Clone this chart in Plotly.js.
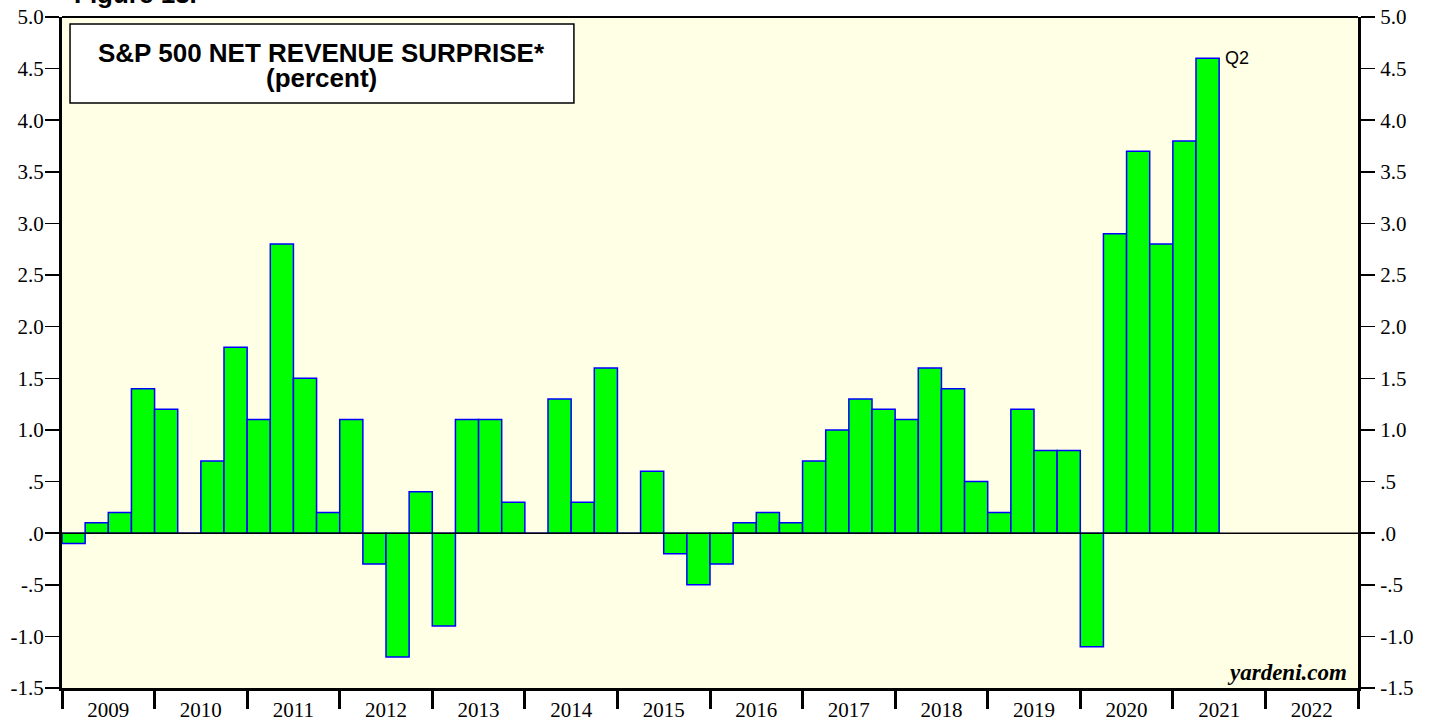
<!DOCTYPE html>
<html>
<head>
<meta charset="utf-8">
<script src="https://cdn.plot.ly/plotly-3.0.1.min.js"></script>
<style>html,body{margin:0;padding:0;background:#fff;}#chart{width:1429px;height:721px;}</style>
</head>
<body>
<div id="chart"></div>
<script>
// Quarterly S&P 500 net revenue surprise (percent)
const quarters = [
  "2009Q1","2009Q2","2009Q3","2009Q4",
  "2010Q1","2010Q2","2010Q3","2010Q4",
  "2011Q1","2011Q2","2011Q3","2011Q4",
  "2012Q1","2012Q2","2012Q3","2012Q4",
  "2013Q1","2013Q2","2013Q3","2013Q4",
  "2014Q1","2014Q2","2014Q3","2014Q4",
  "2015Q1","2015Q2","2015Q3","2015Q4",
  "2016Q1","2016Q2","2016Q3","2016Q4",
  "2017Q1","2017Q2","2017Q3","2017Q4",
  "2018Q1","2018Q2","2018Q3","2018Q4",
  "2019Q1","2019Q2","2019Q3","2019Q4",
  "2020Q1","2020Q2","2020Q3","2020Q4",
  "2021Q1","2021Q2"
];
const surprise = [
  -0.1, 0.1, 0.2, 1.4,
  1.2, 0.0, 0.7, 1.8,
  1.1, 2.8, 1.5, 0.2,
  1.1, -0.3, -1.2, 0.4,
  -0.9, 1.1, 1.1, 0.3,
  0.0, 1.3, 0.3, 1.6,
  0.0, 0.6, -0.2, -0.5,
  -0.3, 0.1, 0.2, 0.1,
  0.7, 1.0, 1.3, 1.2,
  1.1, 1.6, 1.4, 0.5,
  0.2, 1.2, 0.8, 0.8,
  -1.1, 2.9, 3.7, 2.8,
  3.8, 4.6
];
const years = [2009,2010,2011,2012,2013,2014,2015,2016,2017,2018,2019,2020,2021,2022];
const yTickVals = [-1.5,-1.0,-0.5,0,0.5,1.0,1.5,2.0,2.5,3.0,3.5,4.0,4.5,5.0];
const yTickText = ["-1.5","-1.0","-.5",".0",".5","1.0","1.5","2.0","2.5","3.0","3.5","4.0","4.5","5.0"];
const lastLabel = "Q2";

// quarter label -> decimal-year center position
function qpos(s){ const y = parseInt(s.slice(0,4),10); const q = parseInt(s.slice(5),10); return y + (q-1)*0.25 + 0.125; }
const xs = quarters.map(qpos);

const serif = "'Liberation Serif', 'Times New Roman', serif";
const sans = "'Liberation Sans', Arial, sans-serif";
const yr = [-1.5, 5.0];
const xr = [years[0], years[years.length-1]+1];

const traces = [
  {
    type: 'bar', x: xs, y: surprise, width: 0.25,
    marker: {color: '#00ff00', line: {color: '#0000ff', width: 1.5}},
    hoverinfo: 'x+y', showlegend: false
  },
  {
    type: 'scatter', mode: 'markers', x: [xs[0]], y: [0], yaxis: 'y2',
    marker: {opacity: 0}, hoverinfo: 'skip', showlegend: false
  }
];

const layout = {
  width: 1429, height: 721,
  margin: {l: 62, r: 71, t: 17, b: 33, pad: 0},
  paper_bgcolor: '#ffffff',
  plot_bgcolor: '#ffffe6',
  bargap: 0,
  showlegend: false,
  xaxis: {
    range: xr, fixedrange: true,
    tickmode: 'array',
    tickvals: years.map(y => y + 0.5),
    ticktext: years.map(String),
    ticks: '', showgrid: false, zeroline: false,
    tickfont: {family: serif, size: 21, color: '#000'},
    ticklabelstandoff: 1,
    showline: true, linecolor: '#000', linewidth: 3,
    minor: {ticks: 'outside', ticklen: 18, tickwidth: 3, tickcolor: '#000',
            tickmode: 'linear', tick0: years[0], dtick: 1, showgrid: false}
  },
  yaxis: {
    range: yr, fixedrange: true,
    tickmode: 'array', tickvals: yTickVals, ticktext: yTickText,
    ticks: 'outside', ticklen: 14, tickwidth: 1.5, tickcolor: '#000',
    tickfont: {family: serif, size: 21, color: '#000'},
    ticklabelstandoff: -3,
    showgrid: false,
    zeroline: false,
    showline: true, linecolor: '#000', linewidth: 3
  },
  yaxis2: {
    range: yr, fixedrange: true, overlaying: 'y', side: 'right', anchor: 'x',
    tickmode: 'array', tickvals: yTickVals, ticktext: yTickText,
    ticks: 'outside', ticklen: 14, tickwidth: 1.5, tickcolor: '#000',
    tickfont: {family: serif, size: 21, color: '#000'},
    ticklabelstandoff: 1,
    showgrid: false, zeroline: false,
    showline: true, linecolor: '#000', linewidth: 3
  },
  shapes: [
    {type: 'line', xref: 'paper', yref: 'paper', x0: 0, x1: 1, y0: 1, y1: 1,
     line: {color: '#000', width: 2}},
    {type: 'line', xref: 'paper', yref: 'y', x0: 0, x1: 1, y0: 0, y1: 0,
     line: {color: '#000', width: 1.5}, layer: 'above'},
    {type: 'rect', xref: 'paper', yref: 'paper', x0: 0.0062, x1: 0.395, y0: 0.8718, y1: 0.9896,
     fillcolor: '#ffffff', line: {color: '#000', width: 1.5}, layer: 'above'}
  ],
  annotations: [
    {xref: 'paper', yref: 'paper', x: 0.2006, y: 0.946, xanchor: 'center', yanchor: 'middle',
     text: '<b>S&amp;P 500 NET REVENUE SURPRISE*</b>', showarrow: false,
     font: {family: sans, size: 26, color: '#000'}},
    {xref: 'paper', yref: 'paper', x: 0.2006, y: 0.909, xanchor: 'center', yanchor: 'middle',
     text: '<b>(percent)</b>', showarrow: false,
     font: {family: sans, size: 26, color: '#000'}},
    {xref: 'paper', yref: 'paper', x: 0.008, y: 1.0085, xanchor: 'left', yanchor: 'bottom',
     text: '<b>Figure 13.</b>', showarrow: false,
     font: {family: sans, size: 26, color: '#000'}},
    {xref: 'paper', yref: 'paper', x: 1, y: 0, xanchor: 'right', yanchor: 'bottom', xshift: -9, yshift: 1,
     text: '<b><i>yardeni.com</i></b>', showarrow: false,
     font: {family: serif, size: 23, color: '#000'}},
    {xref: 'x', yref: 'y', x: xs[xs.length-1] + 0.125, y: surprise[surprise.length-1],
     xanchor: 'left', yanchor: 'middle', xshift: 4,
     text: lastLabel, showarrow: false,
     font: {family: sans, size: 18, color: '#000'}}
  ]
};

Plotly.newPlot('chart', traces, layout, {displayModeBar: false, staticPlot: true});
</script>
</body>
</html>
